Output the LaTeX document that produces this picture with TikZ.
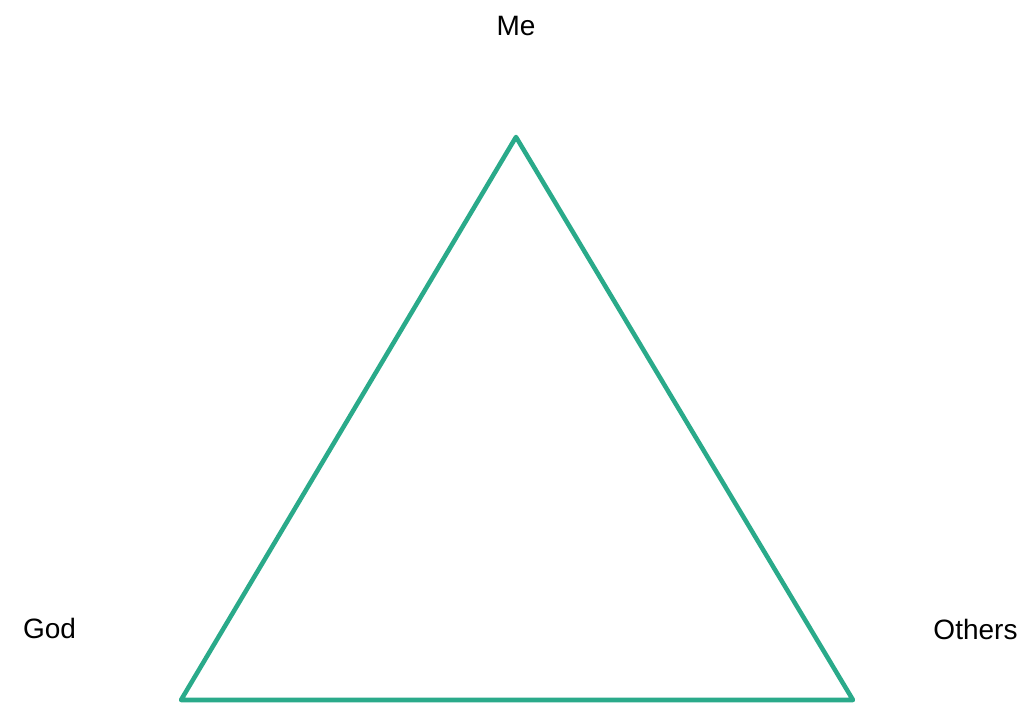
\documentclass[tikz,border=0pt]{standalone}
\usepackage{fontspec}
\setmainfont{Liberation Sans}
\definecolor{sidecol}{RGB}{42,170,138}
\begin{document}
\begin{tikzpicture}[x=0.75pt,y=-0.75pt,
    corner/.style={anchor=base,font=\fontsize{21}{25}\selectfont},
    side/.style={draw=sidecol,line width=3.4pt,line join=round,line cap=round}]
    \useasboundingbox (0,0) rectangle (1026,706);
    \node[corner] (me) at (516,35.5) {Me};
    \node[corner] (god) at (49.5,638.5) {God};
    \node[corner] (others) at (975.5,639.5) {Others};
    \coordinate (top) at (516,137);
    \coordinate (left) at (181,700);
    \coordinate (right) at (853,700);
    \draw[side] (top) -- (right) -- (left) -- cycle;
\end{tikzpicture}
\end{document}
